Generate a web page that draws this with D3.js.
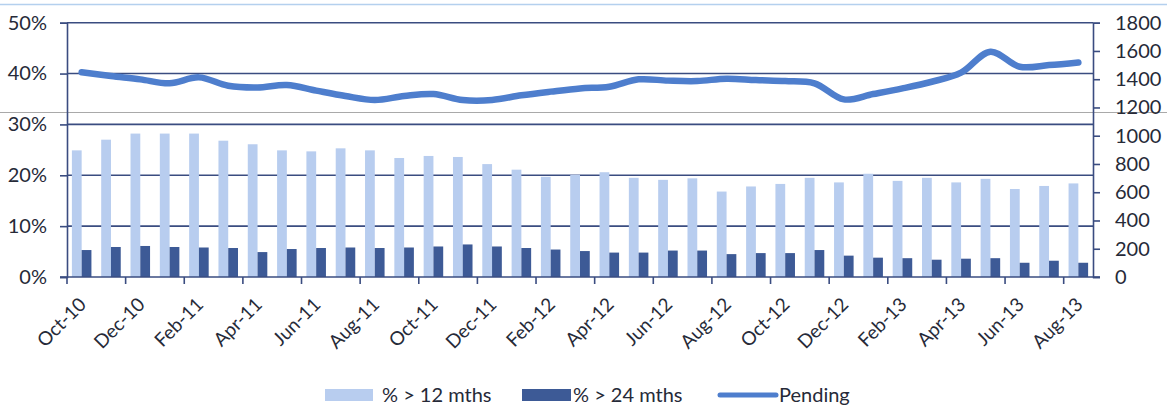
<!DOCTYPE html>
<html><head><meta charset="utf-8">
<script src="https://cdn.jsdelivr.net/npm/d3@7"></script>
<style>
html,body{margin:0;padding:0;background:#fff;}
svg text{font-family:Lato,"Open Sans",sans-serif;fill:#262a38;}
</style></head>
<body>
<svg id="c" width="1167" height="407"></svg>
<script>
const months = ["Oct-10","Nov-10","Dec-10","Jan-11","Feb-11","Mar-11","Apr-11","May-11","Jun-11","Jul-11","Aug-11","Sep-11","Oct-11","Nov-11","Dec-11","Jan-12","Feb-12","Mar-12","Apr-12","May-12","Jun-12","Jul-12","Aug-12","Sep-12","Oct-12","Nov-12","Dec-12","Jan-13","Feb-13","Mar-13","Apr-13","May-13","Jun-13","Jul-13","Aug-13"];
const over12 = [24.9,27.0,28.2,28.2,28.2,26.8,26.1,24.9,24.7,25.3,24.9,23.4,23.8,23.6,22.2,21.1,19.7,20.1,20.6,19.5,19.1,19.4,16.8,17.8,18.3,19.5,18.6,20.3,18.9,19.5,18.6,19.3,17.3,17.9,18.4];
const over24 = [5.3,5.9,6.1,5.9,5.8,5.7,4.9,5.5,5.7,5.8,5.7,5.8,6.0,6.4,6.0,5.7,5.4,5.1,4.8,4.8,5.2,5.2,4.5,4.7,4.7,5.3,4.2,3.8,3.7,3.4,3.6,3.7,2.8,3.2,2.8];
const pending = [1449,1423,1399,1371,1413,1354,1342,1359,1319,1281,1253,1281,1295,1253,1253,1286,1312,1335,1347,1399,1390,1387,1404,1394,1387,1371,1257,1295,1335,1382,1446,1595,1488,1500,1519];
const leftTicks = [0,10,20,30,40,50];
const rightTicks = [0,200,400,600,800,1000,1200,1400,1600,1800];
const seriesNames = ["% > 12 mths","% > 24 mths","Pending"];

const svg = d3.select("#c");
const X0 = 67, X1 = 1093, YB = 277, YT = 22.7;
const navy = "#3a4c80", light = "#b8cdef", dark = "#3d5a96", lineC = "#4e7ecd";

// scan artifacts
svg.append("line").attr("x1",0).attr("x2",1167).attr("y1",4.5).attr("y2",4.5).attr("stroke","#b4d0ee").attr("stroke-width",1.5);

const x = d3.scaleBand().domain(months).range([X0,X1]).paddingInner(0).paddingOuter(0);
const xs = d3.scaleBand().domain(["a","b"]).range([0,x.bandwidth()]).paddingInner(0).paddingOuter(0.5);
const yL = d3.scaleLinear().domain([0,50]).range([YB,YT]);
const yR = d3.scaleLinear().domain([0,1800]).range([YB,YT]);

// gridlines
svg.append("g").selectAll("line").data(leftTicks.filter(d=>d>0)).join("line")
  .attr("x1",X0).attr("x2",X1).attr("y1",d=>yL(d)).attr("y2",d=>yL(d))
  .attr("stroke",navy).attr("stroke-width",1.6);

// bars
const g = svg.append("g");
g.selectAll("rect.a").data(months).join("rect").attr("class","a")
  .attr("x",(d)=>x(d)+xs("a")).attr("width",xs.bandwidth())
  .attr("y",(d,i)=>yL(over12[i])).attr("height",(d,i)=>YB-yL(over12[i])).attr("fill",light);
g.selectAll("rect.b").data(months).join("rect").attr("class","b")
  .attr("x",(d)=>x(d)+xs("b")).attr("width",xs.bandwidth())
  .attr("y",(d,i)=>yL(over24[i])).attr("height",(d,i)=>YB-yL(over24[i])).attr("fill",dark);

svg.append("line").attr("x1",0).attr("x2",1167).attr("y1",112.5).attr("y2",112.5).attr("stroke","#a9a9a9").attr("stroke-width",1);

// line
const line = d3.line().x((d,i)=>x(months[i])+x.bandwidth()/2).y(d=>yR(d)).curve(d3.curveCatmullRom.alpha(0.5));
svg.append("path").datum(pending).attr("d",line).attr("fill","none").attr("stroke",lineC)
  .attr("stroke-width",6.5).attr("stroke-linecap","round").attr("stroke-linejoin","round");

// axes
const axL = d3.axisLeft(yL).tickValues(leftTicks).tickFormat(d=>d+"%").tickSize(7).tickPadding(13);
const gL = svg.append("g").attr("transform",`translate(${X0},0)`).call(axL);
const axR = d3.axisRight(yR).tickValues(rightTicks).tickFormat(d3.format("d")).tickSize(7).tickPadding(15);
const gR = svg.append("g").attr("transform",`translate(${X1},0)`).call(axR);
const ticksB = months.filter((d,i)=>i%2===0);
const axB = d3.axisBottom(x).tickValues(ticksB).tickSize(0).tickFormat("");
const gB = svg.append("g").attr("transform",`translate(0,${YB})`).call(axB);
[gL,gR,gB].forEach(a=>{
  a.select(".domain").attr("stroke",navy).attr("stroke-width",1.6);
  a.selectAll(".tick line").attr("stroke",navy).attr("stroke-width",1.6);
  a.selectAll("text").attr("font-size",20).attr("fill","#262a38").attr("font-family","Lato");
});
gB.select(".domain").attr("d",`M${X0-7},0H${X1+7}`);
// category boundary ticks every 2 months
gB.selectAll("line.bt").data(ticksB).join("line").attr("class","bt")
  .attr("x1",d=>x(d)).attr("x2",d=>x(d)).attr("y1",0).attr("y2",7)
  .attr("stroke",navy).attr("stroke-width",1.6);
// rotated labels
gB.selectAll("text.lab").data(ticksB).join("text").attr("class","lab")
  .attr("transform",d=>`translate(${x(d)+x.bandwidth()/2+1},${24}) rotate(-45)`)
  .attr("text-anchor","end").attr("dy","0.35em").attr("font-size",19).text(d=>d);

// legend
const lg = svg.append("g");
lg.append("rect").attr("x",325).attr("y",389).attr("width",48).attr("height",12).attr("fill",light);
lg.append("text").attr("x",382).attr("y",395).attr("dy","0.35em").attr("font-size",20).text(seriesNames[0]);
lg.append("rect").attr("x",522).attr("y",389).attr("width",49).attr("height",12).attr("fill",dark);
lg.append("text").attr("x",573).attr("y",395).attr("dy","0.35em").attr("font-size",20).text(seriesNames[1]);
lg.append("line").attr("x1",720).attr("x2",776).attr("y1",395).attr("y2",395).attr("stroke",lineC).attr("stroke-width",5).attr("stroke-linecap","round");
lg.append("text").attr("x",779).attr("y",395).attr("dy","0.35em").attr("font-size",20).text(seriesNames[2]);
</script>
</body></html>
